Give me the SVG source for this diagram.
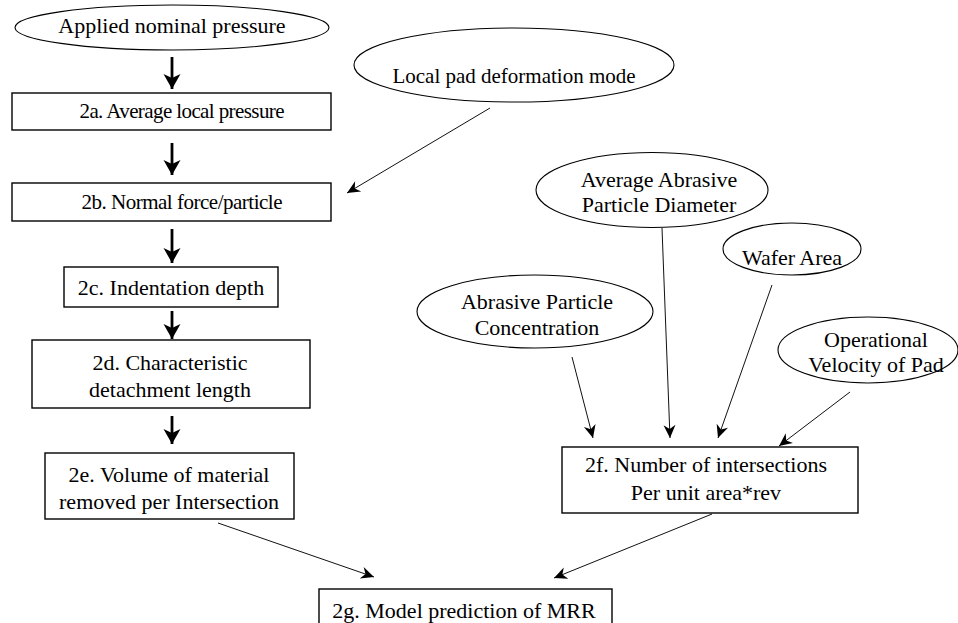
<svg xmlns="http://www.w3.org/2000/svg" width="958" height="623" viewBox="0 0 958 623">
<defs>
<style>
.box{fill:#fff;stroke:#000;stroke-width:1.4}
.ell{fill:#fff;stroke:#000;stroke-width:1.1}
.t{font-family:"Liberation Serif","Times New Roman",serif;font-size:22px;fill:#000;text-anchor:middle}
.s{font-size:21px}
.thick{stroke:#000;stroke-width:2.8;fill:none}
.thin{stroke:#111;stroke-width:1;fill:none}
</style>
<marker id="big" markerUnits="userSpaceOnUse" markerWidth="20" markerHeight="20" viewBox="-16 -10 18 20" refX="0" refY="0" orient="auto">
<path d="M0,0 L-15,-8.5 L-11,0 L-15,8.5 Z" fill="#000"/>
</marker>
<marker id="sm" markerUnits="userSpaceOnUse" markerWidth="16" markerHeight="14" viewBox="-14 -7 16 14" refX="0" refY="0" orient="auto">
<path d="M0,0 L-13,-6 L-9,0 L-13,6 Z" fill="#000"/>
</marker>
</defs>
<rect width="958" height="623" fill="#fff"/>

<g id="connectors">
<line class="thick" x1="172" y1="57" x2="172" y2="89" marker-end="url(#big)"/>
<line class="thick" x1="172" y1="143" x2="172" y2="175" marker-end="url(#big)"/>
<line class="thick" x1="172" y1="229" x2="172" y2="263" marker-end="url(#big)"/>
<line class="thick" x1="172" y1="311" x2="172" y2="339" marker-end="url(#big)"/>
<line class="thick" x1="172" y1="416" x2="172" y2="444" marker-end="url(#big)"/>
<line class="thin" x1="490" y1="108" x2="347" y2="193" marker-end="url(#sm)"/>
<line class="thin" x1="572" y1="357" x2="593" y2="438" marker-end="url(#sm)"/>
<line class="thin" x1="662" y1="228" x2="670" y2="438" marker-end="url(#sm)"/>
<line class="thin" x1="772" y1="285" x2="718" y2="438" marker-end="url(#sm)"/>
<line class="thin" x1="850" y1="392" x2="779" y2="446" marker-end="url(#sm)"/>
<line class="thin" x1="218" y1="523" x2="374" y2="577" marker-end="url(#sm)"/>
<line class="thin" x1="712" y1="514" x2="554" y2="578" marker-end="url(#sm)"/>
</g>

<g id="applied">
<ellipse class="ell" cx="172" cy="27.5" rx="157" ry="22.5"/>
<text class="t" x="172" y="33">Applied nominal pressure</text>
</g>
<g id="n2a">
<rect class="box" x="12" y="93" width="319" height="37"/>
<text class="t s" x="182" y="118" textLength="205" lengthAdjust="spacing">2a. Average local pressure</text>
</g>
<g id="n2b">
<rect class="box" x="12" y="183" width="319" height="38"/>
<text class="t s" x="182" y="209" textLength="201" lengthAdjust="spacing">2b. Normal force/particle</text>
</g>
<g id="n2c">
<rect class="box" x="64" y="267" width="214" height="40"/>
<text class="t" x="171" y="295">2c. Indentation depth</text>
</g>
<g id="n2d">
<rect class="box" x="32" y="340" width="278" height="68"/>
<text class="t" x="170" y="370">2d. Characteristic</text>
<text class="t" x="170" y="397">detachment length</text>
</g>
<g id="n2e">
<rect class="box" x="45" y="453" width="249" height="66"/>
<text class="t" x="169" y="482">2e. Volume of material</text>
<text class="t" x="169" y="509">removed per Intersection</text>
</g>
<g id="localpad">
<ellipse class="ell" cx="514" cy="65" rx="160" ry="37"/>
<text class="t" x="514" y="83" style="font-size:21px">Local pad deformation mode</text>
</g>
<g id="avgdiam">
<ellipse class="ell" cx="652" cy="190" rx="116" ry="37.5"/>
<text class="t" x="659" y="187">Average Abrasive</text>
<text class="t" x="659" y="212">Particle Diameter</text>
</g>
<g id="wafer">
<ellipse class="ell" cx="792" cy="249" rx="69" ry="26"/>
<text class="t" x="792" y="265">Wafer Area</text>
</g>
<g id="conc">
<ellipse class="ell" cx="535" cy="311.5" rx="118" ry="36.5"/>
<text class="t" x="537" y="309">Abrasive Particle</text>
<text class="t" x="537" y="335">Concentration</text>
</g>
<g id="velocity">
<ellipse class="ell" cx="868" cy="350" rx="90" ry="33"/>
<text class="t" x="876" y="347">Operational</text>
<text class="t" x="876" y="372">Velocity of Pad</text>
</g>
<g id="n2f">
<rect class="box" x="562" y="447" width="296" height="66"/>
<text class="t" x="706" y="472">2f. Number of intersections</text>
<text class="t" x="706" y="500">Per unit area*rev</text>
</g>
<g id="n2g">
<rect class="box" x="319" y="589" width="293" height="50"/>
<text class="t" x="464" y="618">2g. Model prediction of MRR</text>
</g>
</svg>
